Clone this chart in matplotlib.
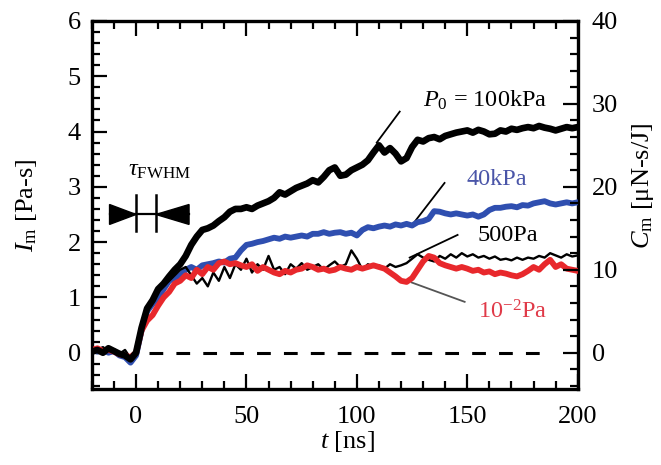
import numpy as np
import matplotlib.pyplot as plt
from matplotlib.ticker import MultipleLocator

plt.rcParams['font.family'] = ['Liberation Serif', 'DejaVu Serif']
plt.rcParams['mathtext.fontset'] = 'custom'
plt.rcParams['mathtext.rm'] = 'Liberation Serif'
plt.rcParams['mathtext.it'] = 'Liberation Serif:italic'

# time grid [ns], one value every 2.5 ns
t = np.arange(-20, 200.1, 2.5)

# impulse I_m [Pa-s]
i_100k = [0.02, 0.05, 0.0, 0.08, 0.03, -0.02, -0.05, -0.12, 0.0, 0.45,
          0.8, 0.95, 1.15, 1.25, 1.38, 1.5, 1.6, 1.75, 1.95, 2.1,
          2.22, 2.25, 2.3, 2.38, 2.45, 2.55, 2.6, 2.6, 2.63, 2.6,
          2.66, 2.7, 2.74, 2.8, 2.9, 2.86, 2.92, 2.98, 3.02, 3.06,
          3.12, 3.08, 3.18, 3.3, 3.35, 3.2, 3.22, 3.3, 3.35, 3.4,
          3.48, 3.62, 3.75, 3.62, 3.7, 3.6, 3.46, 3.52, 3.72, 3.85,
          3.82, 3.88, 3.9, 3.86, 3.92, 3.95, 3.98, 4.0, 4.02, 3.98,
          4.03, 4.0, 3.95, 3.96, 4.02, 4.0, 4.05, 4.03, 4.06, 4.08,
          4.06, 4.1, 4.07, 4.05, 4.02, 4.05, 4.08, 4.06, 4.08]
i_40k = [0.05, 0.02, 0.06, 0.0, 0.03, -0.05, -0.08, -0.18, -0.05, 0.4,
         0.75, 0.88, 1.0, 1.15, 1.3, 1.35, 1.4, 1.5, 1.55, 1.5,
         1.58, 1.6, 1.62, 1.65, 1.63, 1.7, 1.72, 1.85, 1.95, 1.97,
         2.0, 2.02, 2.05, 2.08, 2.06, 2.1, 2.08, 2.1, 2.12, 2.1,
         2.15, 2.15, 2.18, 2.15, 2.17, 2.18, 2.15, 2.17, 2.12, 2.22,
         2.27, 2.25, 2.28, 2.3, 2.28, 2.32, 2.3, 2.33, 2.3, 2.36,
         2.38, 2.42, 2.56, 2.55, 2.52, 2.5, 2.52, 2.5, 2.48, 2.5,
         2.46, 2.5, 2.58, 2.62, 2.62, 2.64, 2.65, 2.63, 2.67, 2.66,
         2.7, 2.72, 2.74, 2.7, 2.68, 2.7, 2.72, 2.7, 2.72]
i_500 = [0.0, 0.05, 0.1, 0.03, 0.06, -0.02, 0.05, -0.1, 0.05, 0.5,
         0.85, 0.95, 1.1, 1.2, 1.3, 1.4, 1.5, 1.55, 1.4, 1.25,
         1.35, 1.2, 1.45, 1.3, 1.55, 1.35, 1.6, 1.5, 1.7, 1.45,
         1.6, 1.5, 1.75, 1.5, 1.55, 1.42, 1.6, 1.52, 1.62, 1.5,
         1.55, 1.6, 1.5, 1.58, 1.65, 1.55, 1.6, 1.85, 1.7, 1.5,
         1.6, 1.55, 1.58, 1.52, 1.6, 1.55, 1.58, 1.62, 1.7, 1.78,
         1.72, 1.68, 1.65, 1.75, 1.7, 1.78, 1.72, 1.8, 1.74, 1.78,
         1.72, 1.75, 1.7, 1.74, 1.68, 1.7, 1.67, 1.72, 1.68, 1.72,
         1.7, 1.75, 1.72, 1.8, 1.76, 1.72, 1.78, 1.74, 1.76]
i_10m2 = [0.05, 0.08, 0.03, 0.05, 0.02, -0.03, -0.05, -0.08, 0.0, 0.4,
          0.58, 0.68, 0.85, 1.0, 1.1, 1.25, 1.3, 1.4, 1.35, 1.5,
          1.42, 1.55, 1.5, 1.62, 1.65, 1.6, 1.62, 1.58, 1.55, 1.6,
          1.48, 1.55, 1.5, 1.45, 1.42, 1.48, 1.45, 1.5, 1.52, 1.58,
          1.55, 1.5, 1.52, 1.48, 1.5, 1.55, 1.52, 1.5, 1.55, 1.52,
          1.55, 1.58, 1.55, 1.52, 1.45, 1.38, 1.3, 1.28, 1.35, 1.5,
          1.65, 1.75, 1.72, 1.62, 1.58, 1.55, 1.52, 1.55, 1.52, 1.48,
          1.5, 1.45, 1.47, 1.42, 1.45, 1.43, 1.4, 1.38, 1.42, 1.48,
          1.55, 1.5, 1.6, 1.68, 1.55, 1.6, 1.52, 1.5, 1.48]

tau_fwhm = 9.0      # pulse width [ns]
cm_per_im = 40 / 6  # right axis scale: C_m per I_m

blue = '#2f4fb0'
red = '#e8282c'

fig = plt.figure(figsize=(6.61, 4.65), dpi=100)
ax = fig.add_axes([0.139, 0.163, 0.735, 0.792])

ax.plot(t, i_40k, color=blue, lw=4.2, zorder=3)
ax.plot(t, i_500, color='black', lw=1.7, zorder=4)
ax.plot(t, i_10m2, color=red, lw=4.2, zorder=5)
ax.plot(t, i_100k, color='black', lw=4.8, zorder=6)
ax.plot([6, 183], [0, 0], color='black', lw=2.2, ls=(0, (4.5, 4.3)))

ax.set_xlim(-20, 200)
ax.set_ylim(-0.66, 6)
ax.xaxis.set_major_locator(MultipleLocator(50))
ax.xaxis.set_minor_locator(MultipleLocator(10))
ax.yaxis.set_major_locator(MultipleLocator(1))
ax.yaxis.set_minor_locator(MultipleLocator(0.2))
ax.tick_params(which='both', direction='in', top=True, right=False, width=1.6, labelsize=19)
ax.tick_params(which='major', length=11)
ax.tick_params(which='minor', length=6)
ax.tick_params(axis='y', pad=8)
ax.tick_params(axis='x', pad=12)
for s in ax.spines.values():
    s.set_linewidth(2.4)

ax2 = ax.twinx()
ax2.set_ylim(-0.66 * cm_per_im, 6 * cm_per_im)
ax2.yaxis.set_major_locator(MultipleLocator(10))
ax2.yaxis.set_minor_locator(MultipleLocator(2))
ax2.tick_params(which='both', direction='in', width=1.6, labelsize=19, pad=10)
ax2.tick_params(which='major', length=11)
ax2.tick_params(which='minor', length=6)

# axis labels
fig.text(0.525, 0.05, '$t$ [ns]', ha='center', va='center', fontsize=19)
fig.text(0.04, 0.559, '$I_{\\rm m}$ [Pa-s]', ha='center', va='center', rotation=90, fontsize=19)
fig.text(0.973, 0.60, '$C_{\\rm m}$ [\u03bcN-s/J]', ha='center', va='center', rotation=90, fontsize=19)

# curve labels with leader lines
ax.text(129.8, 4.57, '$P_0$ = 100kPa', fontsize=17.5, va='center')
ax.plot([119.4, 109.0], [4.36, 3.80], color='black', lw=1.3)
ax.text(149.7, 3.13, '40kPa', fontsize=17.5, va='center', color='#4a55a8')
ax.plot([139.7, 126.2], [3.07, 2.37], color='black', lw=1.3)
ax.text(154.7, 2.12, '500Pa', fontsize=17.5, va='center')
ax.plot([145.6, 123.9], [2.13, 1.72], color='black', lw=1.3)
ax.text(154.7, 0.74, '10$^{-2}$Pa', fontsize=17.5, va='center', color='#e03a48')
ax.plot([148.8, 124.8], [0.92, 1.27], color='#555555', lw=1.3)

# pulse width marker
lvl = 2.5
ax.text(-3.8, 3.3, '$\\tau_{\\rm FWHM}$', fontsize=17.5, va='center')
ax.plot([-12, tau_fwhm + 15], [lvl, lvl], color='black', lw=1.6)
ax.fill([-12, 0, -12], [lvl - 0.18, lvl, lvl + 0.18], color='black')
ax.fill([tau_fwhm + 15, tau_fwhm, tau_fwhm + 15], [lvl - 0.18, lvl, lvl + 0.18], color='black')
ax.plot([0, 0], [lvl - 0.3, lvl + 0.35], color='black', lw=1.8)
ax.plot([tau_fwhm, tau_fwhm], [lvl - 0.3, lvl + 0.35], color='black', lw=1.8)

fig.savefig('out.png', dpi=100)
